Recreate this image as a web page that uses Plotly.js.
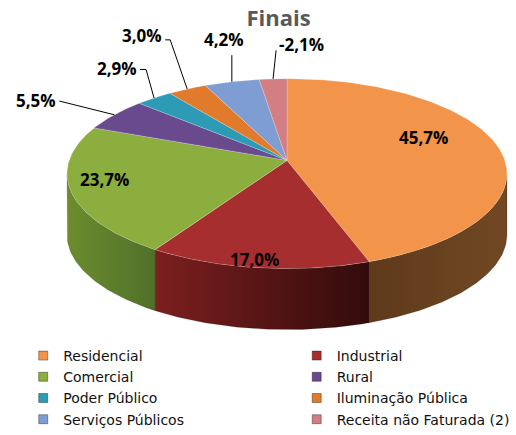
<!DOCTYPE html>
<html>
<head>
<meta charset="utf-8">
<script src="https://cdn.plot.ly/plotly-3.0.1.min.js"></script>
<style>html,body{margin:0;padding:0;background:#fff;}#chart{width:516px;height:435px;}</style>
</head>
<body>
<div id="chart"></div>
<script>
// ---- data ----
const categories = ['Residencial', 'Industrial', 'Comercial', 'Rural', 'Poder Público',
                    'Iluminação Pública', 'Serviços Públicos', 'Receita não Faturada (2)'];
const shares = [45.7, 17.0, 23.7, 5.5, 2.9, 3.0, 4.2, -2.1];
const chartTitle = 'Finais';

// ---- style ----
const topColors = ['#F2944A', '#A72E2E', '#8BAE3F', '#6A4A8F', '#2D9BB5', '#E27A2B', '#7E9DD2', '#D27E82'];
const sideColors = {0: ['#5E3A1B', '#714823'], 1: ['#7C1F1F', '#330B0B'], 2: ['#6C8C2E', '#50702A']};
const legendColumn = [0, 1, 0, 1, 0, 1, 0, 1];
const G = {cx: 287, cy: 176.5, a: 220, b: 96.5, apexY: 163, depth: 62};
// inside label placement: fraction from apex to rim, pixel nudge
const insideLabel = {0: {k: 0.63, dx: 0, dy: -20}, 1: {k: 0.92, dx: -6, dy: 0}, 2: {k: 0.85, dx: 0, dy: -9}};
// outside label placement relative to rim point
const outsideLabel = {
  3: {dx: -57, dy: -15, xa: 'right', ya: 'middle', path: [[-55, -14]]},
  4: {dx: -16, dy: -30, xa: 'right', ya: 'middle', path: [[-8, -29], [-14, -29]]},
  5: {dx: -24, dy: -54, xa: 'right', ya: 'middle', path: [[-17, -50], [-22, -50]]},
  6: {dx: -8, dy: -30, xa: 'center', ya: 'bottom', path: [[0, -27]]},
  7: {dx: 5, dy: -35, xa: 'left', ya: 'middle', path: [[3, -29]]}
};

const fmt = v => v.toFixed(1).replace('.', ',') + '%';
const sizes = shares.map(Math.abs);
const total = sizes.reduce((s, v) => s + v, 0);
function rim(t, dz) { return [G.cx + G.a * Math.sin(t), G.cy - G.b * Math.cos(t) + (dz || 0)]; }
function arc(t0, t1, dz) {
  const n = Math.max(2, Math.ceil(Math.abs(t1 - t0) / (Math.PI / 180)));
  const pts = [];
  for (let i = 0; i <= n; i++) pts.push(rim(t0 + (t1 - t0) * i / n, dz));
  return pts;
}

const traces = [];
const annotations = [];
let acc = 0;
const slices = sizes.map(v => { const s = acc / total * 2 * Math.PI; acc += v; return [s, acc / total * 2 * Math.PI]; });

// side faces
slices.forEach(([s, e], i) => {
  const a0 = Math.max(s, Math.PI / 2), a1 = Math.min(e, 1.5 * Math.PI);
  if (a1 <= a0) return;
  const top = arc(a0, a1, 0), bot = arc(a1, a0, G.depth);
  const pts = top.concat(bot);
  pts.push(top[0]);
  const c = sideColors[i] || [topColors[i], topColors[i]];
  traces.push({
    type: 'scatter', mode: 'lines', x: pts.map(p => p[0]), y: pts.map(p => p[1]),
    fill: 'toself', fillcolor: c[0],
    fillgradient: {type: 'horizontal', colorscale: [[0, c[0]], [1, c[1]]]},
    line: {width: 0.6, color: 'rgba(0,0,0,0.25)'}, hoverinfo: 'skip', showlegend: false
  });
});

// top faces
slices.forEach(([s, e], i) => {
  const pts = [[G.cx, G.apexY]].concat(arc(s, e, 0), [[G.cx, G.apexY]]);
  traces.push({
    type: 'scatter', mode: 'lines', x: pts.map(p => p[0]), y: pts.map(p => p[1]),
    fill: 'toself', fillcolor: topColors[i],
    line: {width: 0.6, color: 'rgba(255,255,255,0.35)'},
    name: categories[i], text: fmt(shares[i]), hoverinfo: 'name+text', showlegend: false
  });
});

// labels
const lx = [], ly = [];
slices.forEach(([s, e], i) => {
  const m = (s + e) / 2;
  const R = rim(m, 0);
  const txt = fmt(shares[i]);
  const font = {family: 'Open Sans, sans-serif', size: 17, color: '#000', weight: 700};
  if (insideLabel[i]) {
    const L = insideLabel[i];
    annotations.push({
      xref: 'x', yref: 'y', x: G.cx + L.k * (R[0] - G.cx) + L.dx, y: G.apexY + L.k * (R[1] - G.apexY) + L.dy,
      text: '<b>' + txt + '</b>', showarrow: false, font: font, xanchor: 'center', yanchor: 'middle'
    });
  } else if (outsideLabel[i]) {
    const L = outsideLabel[i];
    annotations.push({
      xref: 'x', yref: 'y', x: R[0] + L.dx, y: R[1] + L.dy,
      text: '<b>' + txt + '</b>', showarrow: false, font: font, xanchor: L.xa, yanchor: L.ya, borderpad: 0
    });
    lx.push(R[0]); ly.push(R[1]);
    L.path.forEach(p => { lx.push(R[0] + p[0]); ly.push(R[1] + p[1]); });
    lx.push(null); ly.push(null);
  }
});
traces.push({type: 'scatter', mode: 'lines', x: lx, y: ly, line: {color: '#000', width: 1},
             hoverinfo: 'skip', showlegend: false});

// legend entries
categories.forEach((c, i) => {
  traces.push({
    type: 'scatter', mode: 'markers', x: [null], y: [null], name: c,
    legend: legendColumn[i] ? 'legend2' : 'legend',
    marker: {symbol: 'square', size: 9, color: topColors[i], line: {width: 1, color: 'rgba(0,0,0,0.35)'}},
    showlegend: true, hoverinfo: 'skip'
  });
});

const legendFont = {family: 'DejaVu Sans, sans-serif', size: 14, color: '#111'};
const layout = {
  width: 516, height: 435,
  margin: {l: 0, r: 0, t: 0, b: 0},
  paper_bgcolor: '#fff', plot_bgcolor: '#fff',
  xaxis: {range: [0, 516], visible: false, fixedrange: true},
  yaxis: {range: [435, 0], visible: false, fixedrange: true},
  title: {text: '<b>' + chartTitle + '</b>', x: 0.54, xanchor: 'center', y: 0.959, yanchor: 'middle',
          font: {family: 'Open Sans, sans-serif', size: 22, color: '#595959'}},
  showlegend: true,
  legend: {x: 0.045, xanchor: 'left', y: 0.205, yanchor: 'top', orientation: 'v', font: legendFont,
           bgcolor: 'rgba(0,0,0,0)', itemwidth: 30, tracegroupgap: 0},
  legend2: {x: 0.575, xanchor: 'left', y: 0.205, yanchor: 'top', orientation: 'v', font: legendFont,
            bgcolor: 'rgba(0,0,0,0)', itemwidth: 30, tracegroupgap: 0},
  annotations: annotations
};
Plotly.newPlot('chart', traces, layout, {displayModeBar: false, staticPlot: true});
</script>
</body>
</html>
